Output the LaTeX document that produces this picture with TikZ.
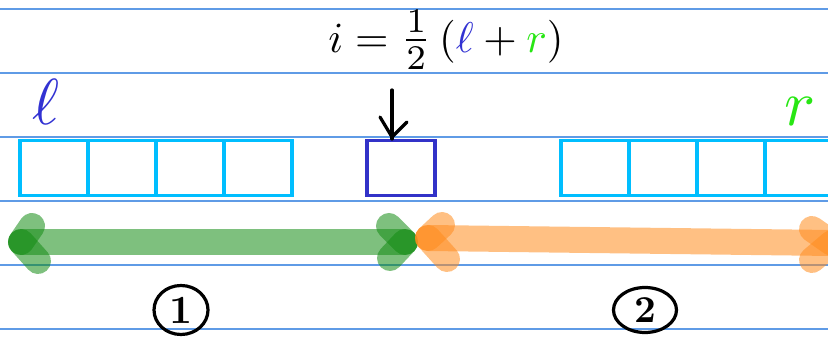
\documentclass[tikz,border=0pt]{standalone}
\usepackage{amsmath}
\usepackage{graphicx}
\usetikzlibrary{calc,shapes.geometric}
\definecolor{rule}{RGB}{95,155,230}
\definecolor{cellc}{RGB}{0,190,255}
\definecolor{midc}{RGB}{50,50,200}
\definecolor{lblue}{RGB}{50,50,210}
\definecolor{rgreen}{RGB}{40,230,20}
\definecolor{garr}{RGB}{20,140,20}
\definecolor{oarr}{RGB}{255,140,30}
\begin{document}
\begin{tikzpicture}[x=1pt,y=-1pt,
  ruleline/.style={draw=rule,line width=1.4pt},
  cell/.style={draw=cellc,line width=3.5pt,minimum width=68pt,minimum height=55pt,inner sep=0pt,anchor=north west},
  midcell/.style={cell,draw=midc},
  garrow/.style={draw=garr,opacity=0.55,line width=26pt,line cap=round},
  oarrow/.style={draw=oarr,opacity=0.55,line width=26pt,line cap=round},
  circnum/.style={draw=black,line width=3.2pt,inner sep=0pt}
]
\useasboundingbox (0,0) rectangle (828,339);
\foreach \y in {9,73,137,201,265,329}{\draw[ruleline] (0,\y) -- (828,\y);}
% formula
\node (eq) at (446,40) {\scalebox{4.3}{$i=\scalebox{1.15}{$\tfrac{1}{2}$}\,(\textcolor{lblue}{\ell}+\textcolor{rgreen}{r})$}};
% labels
\node[text=lblue] (l) at (46,102) {\scalebox{6.5}{$\ell$}};
\node[text=rgreen] (r) at (800,112) {\scalebox{6.5}{$r$}};
% cells
\node[cell] (c1) at (18,139) {};
\node[cell] (c2) at (86,139) {};
\node[cell] (c3) at (154,139) {};
\node[cell] (c4) at (222,139) {};
\node[midcell] (m) at (365,139) {};
\node[cell] (d1) at (559,139) {};
\node[cell] (d2) at (627,139) {};
\node[cell] (d3) at (695,139) {};
\node[cell] (d4) at (763,139) {};
% down arrow
\coordinate (atop) at (392,90);
\draw[line width=3.2pt,line cap=round,line join=round] (atop) -- (m.north -| atop);
\draw[line width=3.2pt,line cap=round,line join=round] ($(m.north -| atop)+(-12,-22)$) -- ($(m.north -| atop)+(0,-2)$) -- ($(m.north -| atop)+(15,-17)$);
% green arrow
\coordinate (gl) at (21,242);
\coordinate (gr) at (405,242);
\draw[garrow] (gl) -- (gr);
\draw[garrow] (gl) -- ++(11,-16);
\draw[garrow] (gl) -- ++(17,19);
\draw[garrow] (gr) -- ++(-16,-16);
\draw[garrow] (gr) -- ++(-15,16);
% orange arrow
\coordinate (ol) at (428,238);
\coordinate (or) at (832,243);
\draw[oarrow] (ol) -- (or);
\draw[oarrow] (ol) -- ++(14,-13);
\draw[oarrow] (ol) -- ++(19,21);
\draw[oarrow] (or) -- ++(-20,-14);
\draw[oarrow] (or) -- ++(-20,17);
% circled numbers
\node[circnum,ellipse,minimum width=54pt,minimum height=49pt] (n1) at (181,310) {\scalebox{4}{\bfseries 1}};
\node[circnum,ellipse,minimum width=63pt,minimum height=45pt] (n2) at (645,310) {\scalebox{3.8}{\bfseries 2}};
\end{tikzpicture}
\end{document}
